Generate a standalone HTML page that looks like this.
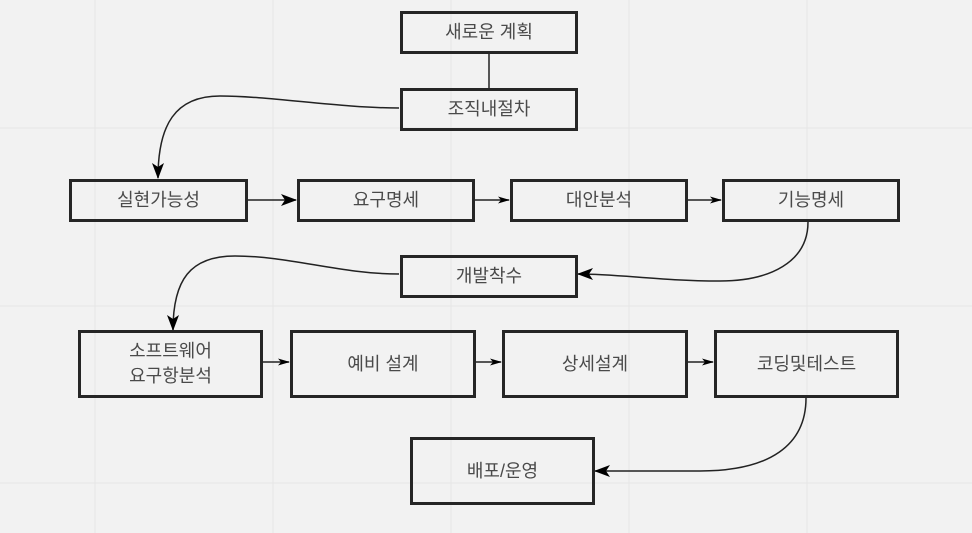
<!DOCTYPE html>
<html><head><meta charset="utf-8"><style>
html,body{margin:0;padding:0;background:#f2f2f2;}
body{width:972px;height:533px;position:relative;overflow:hidden;font-family:"Liberation Sans","Noto Sans CJK KR",sans-serif;}
.b{position:absolute;box-sizing:border-box;border:3px solid #262626;display:flex;align-items:center;justify-content:center;text-align:center;color:#4a4a4a;font-size:18px;line-height:25px;}
svg{position:absolute;left:0;top:0;}
</style></head><body>
<svg width="972" height="533">
<defs>
<marker id="L" markerWidth="16" markerHeight="12" refX="15" refY="6" orient="auto" markerUnits="userSpaceOnUse"><path d="M0,0 L16,6 L0,12 L4,6 z" fill="#000"/></marker>
<marker id="S" markerWidth="12" markerHeight="7" refX="11" refY="3.5" orient="auto" markerUnits="userSpaceOnUse"><path d="M0,0 L12,3.5 L0,7 L3,3.5 z" fill="#000"/></marker>
</defs>
<g stroke="#e6e6e6" stroke-width="1">
<line x1="95" y1="0" x2="95" y2="533"/><line x1="273" y1="0" x2="273" y2="533"/><line x1="451" y1="0" x2="451" y2="533"/><line x1="629" y1="0" x2="629" y2="533"/><line x1="807" y1="0" x2="807" y2="533"/>
<line x1="0" y1="128" x2="972" y2="128"/><line x1="0" y1="306" x2="972" y2="306"/><line x1="0" y1="483" x2="972" y2="483"/>
</g>
<g stroke="#222" stroke-width="1.5" fill="none">
<line x1="489" y1="53" x2="489" y2="88"/>
<path d="M399,108 C340,108 270,96 220,96 C175,96 158,125 158,178" marker-end="url(#L)"/>
<path d="M808,222 C808,262 770,281 720,281 C660,281 620,274 578,274" marker-end="url(#L)"/>
<path d="M399,274 C340,274 290,256 235,256 C190,256 173,280 173,330" marker-end="url(#L)"/>
<path d="M806,398 C806,445 770,471 700,471 L595,471" marker-end="url(#L)"/>
<line x1="248" y1="200" x2="296" y2="200" marker-end="url(#L)"/>
<line x1="475" y1="200" x2="509" y2="200" marker-end="url(#S)"/>
<line x1="688" y1="200" x2="721" y2="200" marker-end="url(#S)"/>
<line x1="263" y1="362" x2="289" y2="362" marker-end="url(#S)"/>
<line x1="476" y1="362" x2="501" y2="362" marker-end="url(#S)"/>
<line x1="688" y1="362" x2="713" y2="362" marker-end="url(#S)"/>
</g>
</svg>
<div class="b" style="left:400px;top:11px;width:178px;height:43px;">새로운 계획</div>
<div class="b" style="left:400px;top:88px;width:178px;height:43px;">조직내절차</div>
<div class="b" style="left:69px;top:179px;width:179px;height:43px;">실현가능성</div>
<div class="b" style="left:297px;top:179px;width:178px;height:43px;">요구명세</div>
<div class="b" style="left:510px;top:179px;width:178px;height:43px;">대안분석</div>
<div class="b" style="left:722px;top:179px;width:178px;height:43px;">기능명세</div>
<div class="b" style="left:400px;top:255px;width:178px;height:43px;">개발착수</div>
<div class="b" style="left:78px;top:330px;width:185px;height:68px;">소프트웨어<br>요구항분석</div>
<div class="b" style="left:290px;top:330px;width:186px;height:68px;">예비 설계</div>
<div class="b" style="left:502px;top:330px;width:186px;height:68px;">상세설계</div>
<div class="b" style="left:714px;top:330px;width:185px;height:68px;">코딩및테스트</div>
<div class="b" style="left:410px;top:437px;width:185px;height:68px;">배포/운영</div>
</body></html>
